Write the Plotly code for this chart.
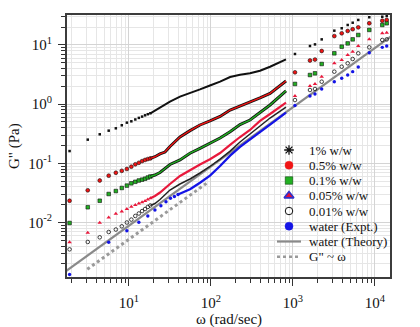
import plotly.graph_objects as go

# ---------------- data ----------------
# low-frequency sparse grid (rad/s)
W_LOW = [1.885, 3.142, 4.398, 5.655, 6.912, 8.168, 9.425, 10.68, 11.94, 13.19, 14.45, 15.71, 16.96, 18.22]
# dense part of the low-frequency sweep (drawn as a continuous trace)
W_LINE = [18.22, 20.73, 23.9, 27.5, 31.6, 41.9, 55.5, 73.4, 97.2, 129, 171, 226, 299, 396, 525, 822]
# high-frequency (microrheology) points
W_HIGH = [1057, 1611, 1854, 2239, 3192, 3927, 4645, 5346, 6255, 8517, 12270, 13900]

G_1_LOW = [0.161, 0.251, 0.309, 0.356, 0.390, 0.439, 0.486, 0.512, 0.550, 0.585, 0.615, 0.647, 0.675, 0.700]
G_1_LINE = [0.700, 0.775, 0.893, 0.984, 1.10, 1.34, 1.52, 1.77, 2.06, 2.39, 2.87, 3.13, 3.31, 3.66, 4.28, 5.71]
G_1_HIGH = [7.02, 9.58, 10.2, 12.4, 17.4, 19.1, 21.7, 23.7, 26.4, 29.3, 29.9, 30.8]

G_05_LOW = [0.0233, 0.0350, 0.0512, 0.0618, 0.0692, 0.0746, 0.0802, 0.0877, 0.0962, 0.102, 0.109, 0.114, 0.118, 0.121]
G_05_LINE = [0.121, 0.129, 0.144, 0.155, 0.192, 0.278, 0.356, 0.444, 0.519, 0.618, 0.794, 0.929, 1.06, 1.27, 1.52, 2.45]
G_05_HIGH = [3.44, 5.45, 5.66, 7.89, 14.1, 15.7, 17.2, 18.4, 19.8, 23.2, 25.6, 26.4]

G_01_LOW = [0.00981, 0.0181, 0.0233, 0.0303, 0.0340, 0.0383, 0.0420, 0.0459, 0.0487, 0.0512, 0.0529, 0.0549, 0.0575, 0.0598]
G_01_LINE = [0.0598, 0.0634, 0.0700, 0.0824, 0.0955, 0.114, 0.148, 0.179, 0.218, 0.267, 0.342, 0.452, 0.538, 0.721, 0.966, 1.68]
G_01_HIGH = [2.19, 3.10, 3.31, 4.76, 7.21, 9.33, 10.6, 12.4, 14.7, 17.9, 21.7, 23.2]

G_005_LOW = [0.00463, 0.00673, 0.00993, 0.0121, 0.0141, 0.0153, 0.0169, 0.0185, 0.0198, 0.0209, 0.0219, 0.0231, 0.0245, 0.0257]
G_005_LINE = [0.0257, 0.0281, 0.0321, 0.0383, 0.0447, 0.061, 0.0771, 0.0955, 0.117, 0.149, 0.204, 0.278, 0.365, 0.519, 0.681, 1.06]
G_005_HIGH = [1.37, 2.02, 2.19, 2.90, 4.89, 5.56, 6.75, 7.67, 9.58, 12.4, 15.7, 16.1]

G_001_LOW = [0.00352, 0.00469, 0.00562, 0.00691, 0.00761, 0.00862, 0.0100, 0.0112, 0.0129, 0.0142, 0.0156, 0.0169, 0.0183, 0.0194]
G_001_LINE = [0.0194, 0.0209, 0.0245, 0.0291, 0.0354, 0.0447, 0.0543, 0.0686, 0.0883, 0.118, 0.161, 0.229, 0.313, 0.427, 0.582, 0.893]
G_001_HIGH = [1.17, 1.73, 1.80, 2.39, 3.53, 4.28, 4.89, 5.78, 7.21, 9.10, 12.1, 12.4]

W_WATER_LOW = [1.885, 5.655, 9.425, 13.19, 16.96, 20.73, 24.50, 28.27, 32.04, 35.81, 39.58]
G_WATER_LOW = [0.00132, 0.00465, 0.00727, 0.0101, 0.0129, 0.0163, 0.0192, 0.0224, 0.0257, 0.0275, 0.0297]
W_WATER_LINE = [39.58, 55.5, 73.4, 97.2, 129, 171, 226, 299, 396, 525, 822]
G_WATER_LINE = [0.0297, 0.0364, 0.047, 0.062, 0.090, 0.135, 0.19, 0.25, 0.33, 0.45, 0.72]
G_WATER_HIGH = [0.946, 1.37, 1.48, 1.80, 2.39, 2.73, 3.10, 3.53, 4.23, 7.38, 9.10, 9.58]

W_THEORY = [1.7, 16000]
G_THEORY = [0.00151, 14.24]
W_SLOPE = [3.1, 88]
G_SLOPE = [0.00162, 0.0458]

LEGEND_LABELS = ["1% w/w", "0.5% w/w", "0.1% w/w", "0.05% w/w", "0.01% w/w",
                 "water (Expt.)", "water (Theory)", "G\" ~ ω"]

X_TICKS = [10, 100, 1000, 10000]
X_TICKTEXT = ["10<sup>1</sup>", "10<sup>2</sup>", "10<sup>3</sup>", "10<sup>4</sup>"]
Y_TICKS = [0.01, 0.1, 1, 10]
Y_TICKTEXT = ["10<sup>-2</sup>", "10<sup>-1</sup>", "10<sup>0</sup>", "10<sup>1</sup>"]
X_TITLE = "ω (rad/sec)"
Y_TITLE = "G\" (Pa)"

RED = "#f01414"
GREEN = "#22b022"
TRI = "#e8193c"
BLUE = "#1414e6"
FONT = "Liberation Serif"

fig = go.Figure()

# reference lines
fig.add_trace(go.Scatter(x=W_THEORY, y=G_THEORY, mode="lines",
                         line=dict(color="#8a8a8a", width=2.2), showlegend=False))
fig.add_trace(go.Scatter(x=W_SLOPE, y=G_SLOPE, mode="lines",
                         line=dict(color="#9a9a9a", width=3, dash="dot"), showlegend=False))

def line(x, y, color, width):
    fig.add_trace(go.Scatter(x=x, y=y, mode="lines",
                             line=dict(color=color, width=width), showlegend=False))

def pts(x, y, symbol, size, color, lcolor=None, lwidth=0):
    fig.add_trace(go.Scatter(x=x, y=y, mode="markers", showlegend=False,
                             marker=dict(symbol=symbol, size=size, color=color,
                                         line=dict(color=lcolor or color, width=lwidth))))

# water (Expt.)
pts(W_WATER_LOW, G_WATER_LOW, "circle", 3.4, BLUE)
line(W_WATER_LINE, G_WATER_LINE, BLUE, 2.3)
pts(W_HIGH, G_WATER_HIGH, "circle", 3.4, BLUE)

# 0.01 %
pts(W_LOW, G_001_LOW, "circle-open", 3.6, "#111", "#111", 0.8)
line(W_LINE, G_001_LINE, "#222", 1.5)
pts(W_HIGH, G_001_HIGH, "circle-open", 3.6, "#111", "#111", 0.8)

# 0.05 %
pts(W_LOW, G_005_LOW, "triangle-up", 4, TRI)
line(W_LINE, G_005_LINE, TRI, 2.2)
pts(W_HIGH, G_005_HIGH, "triangle-up", 4, TRI)

# 0.1 %
pts(W_LOW, G_01_LOW, "square", 3.6, GREEN, "#111", 0.6)
line(W_LINE, G_01_LINE, "#111", 3.0)
line(W_LINE, G_01_LINE, GREEN, 1.4)
pts(W_HIGH, G_01_HIGH, "square", 3.6, GREEN, "#111", 0.6)

# 0.5 %
pts(W_LOW, G_05_LOW, "circle", 3.8, RED, "#111", 0.6)
line(W_LINE, G_05_LINE, "#111", 3.0)
line(W_LINE, G_05_LINE, RED, 1.4)
pts(W_HIGH, G_05_HIGH, "circle", 3.8, RED, "#111", 0.6)

# 1 %
pts(W_LOW, G_1_LOW, "square", 2.5, "#111")
line(W_LINE, G_1_LINE, "#111", 2.0)
pts(W_HIGH, G_1_HIGH, "square", 2.5, "#111")

# ---------------- custom legend (inside the plot) ----------------
L, R, T, B = 67, 30, 15, 50
W, H = 420, 327
pw, ph = W - L - R, H - T - B
rows_px = [150, 165.2, 180.5, 195.7, 211, 226.2, 241.5, 256.7]
ry = [(H - B - y) / ph for y in rows_px]
sx = (289 - L) / pw
tx = (306.5 - L) / pw
lx0, lx1 = (277 - L) / pw, (301 - L) / pw

def key(symbol, size, color, lcolor, lwidth, yy):
    fig.add_trace(go.Scatter(x=[sx], y=[yy], xaxis="x2", yaxis="y2", mode="markers",
                             showlegend=False, hoverinfo="skip",
                             marker=dict(symbol=symbol, size=size, color=color,
                                         line=dict(color=lcolor, width=lwidth))))

key("asterisk-open", 8, "#111", "#111", 1.3, ry[0])
key("circle", 8, RED, RED, 0.5, ry[1])
key("square", 7.5, GREEN, "#114411", 0.6, ry[2])
key("triangle-up", 8.5, "#e0103a", "#3030c8", 1.6, ry[3])
key("circle-open", 7.5, "#111", "#111", 1, ry[4])
key("circle", 8, BLUE, BLUE, 0.5, ry[5])
fig.add_trace(go.Scatter(x=[lx0, lx1], y=[ry[6], ry[6]], xaxis="x2", yaxis="y2", mode="lines",
                         showlegend=False, hoverinfo="skip",
                         line=dict(color="#8a8a8a", width=2.2)))
fig.add_trace(go.Scatter(x=[lx0, lx1], y=[ry[7], ry[7]], xaxis="x2", yaxis="y2", mode="lines",
                         showlegend=False, hoverinfo="skip",
                         line=dict(color="#9a9a9a", width=2.5, dash="dot")))

annotations = []
for lab, yy in zip(LEGEND_LABELS, ry):
    annotations.append(dict(text=lab, x=tx, y=yy, xref="paper", yref="paper",
                            xanchor="left", yanchor="middle", showarrow=False,
                            font=dict(family=FONT, size=13, color="#111")))
# axis titles
annotations.append(dict(text=X_TITLE, x=(228.5 - L) / pw, y=(H - B - 319) / ph,
                        xref="paper", yref="paper", xanchor="center", yanchor="middle",
                        showarrow=False, font=dict(family=FONT, size=15, color="#111")))
annotations.append(dict(text=Y_TITLE, x=(14 - L) / pw, y=0.5, textangle=-90,
                        xref="paper", yref="paper", xanchor="center", yanchor="middle",
                        showarrow=False, font=dict(family=FONT, size=15, color="#111")))

x_minor = [m * 10 ** e for e in range(0, 5) for m in range(2, 10)]
y_minor = [m * 10.0 ** e for e in range(-3, 2) for m in range(2, 10)]

axis_common = dict(
    type="log", showline=True, mirror=True, linecolor="#3c3c3c", linewidth=2,
    ticks="outside", ticklen=7, tickwidth=1, tickcolor="#333",
    showgrid=True, gridcolor="#d4d4d4", gridwidth=1, zeroline=False,
    tickfont=dict(family=FONT, size=15, color="#111"), automargin=False,
)

fig.update_layout(
    width=W, height=H,
    margin=dict(l=L, r=R, t=T, b=B, autoexpand=False),
    paper_bgcolor="white", plot_bgcolor="white",
    showlegend=False,
    font=dict(family=FONT, color="#111"),
    xaxis=dict(axis_common, range=[0.244, 4.183], tickmode="array",
               tickvals=X_TICKS, ticktext=X_TICKTEXT, ticklabelstandoff=4,
               minor=dict(tickvals=x_minor, ticks="outside", ticklen=4, tickcolor="#333",
                          showgrid=True, gridcolor="#e6e6e6")),
    yaxis=dict(axis_common, range=[-2.9206, 1.5051], tickmode="array",
               tickvals=Y_TICKS, ticktext=Y_TICKTEXT, ticklabelstandoff=3,
               minor=dict(tickvals=y_minor, ticks="outside", ticklen=4, tickcolor="#333",
                          showgrid=True, gridcolor="#e6e6e6")),
    xaxis2=dict(overlaying="x", range=[0, 1], visible=False, anchor="y2", fixedrange=True),
    yaxis2=dict(overlaying="y", range=[0, 1], visible=False, anchor="x2", fixedrange=True),
    annotations=annotations,
)

fig.write_html("out.html", config={"displayModeBar": False},
               post_script="document.body.style.margin='0';")
